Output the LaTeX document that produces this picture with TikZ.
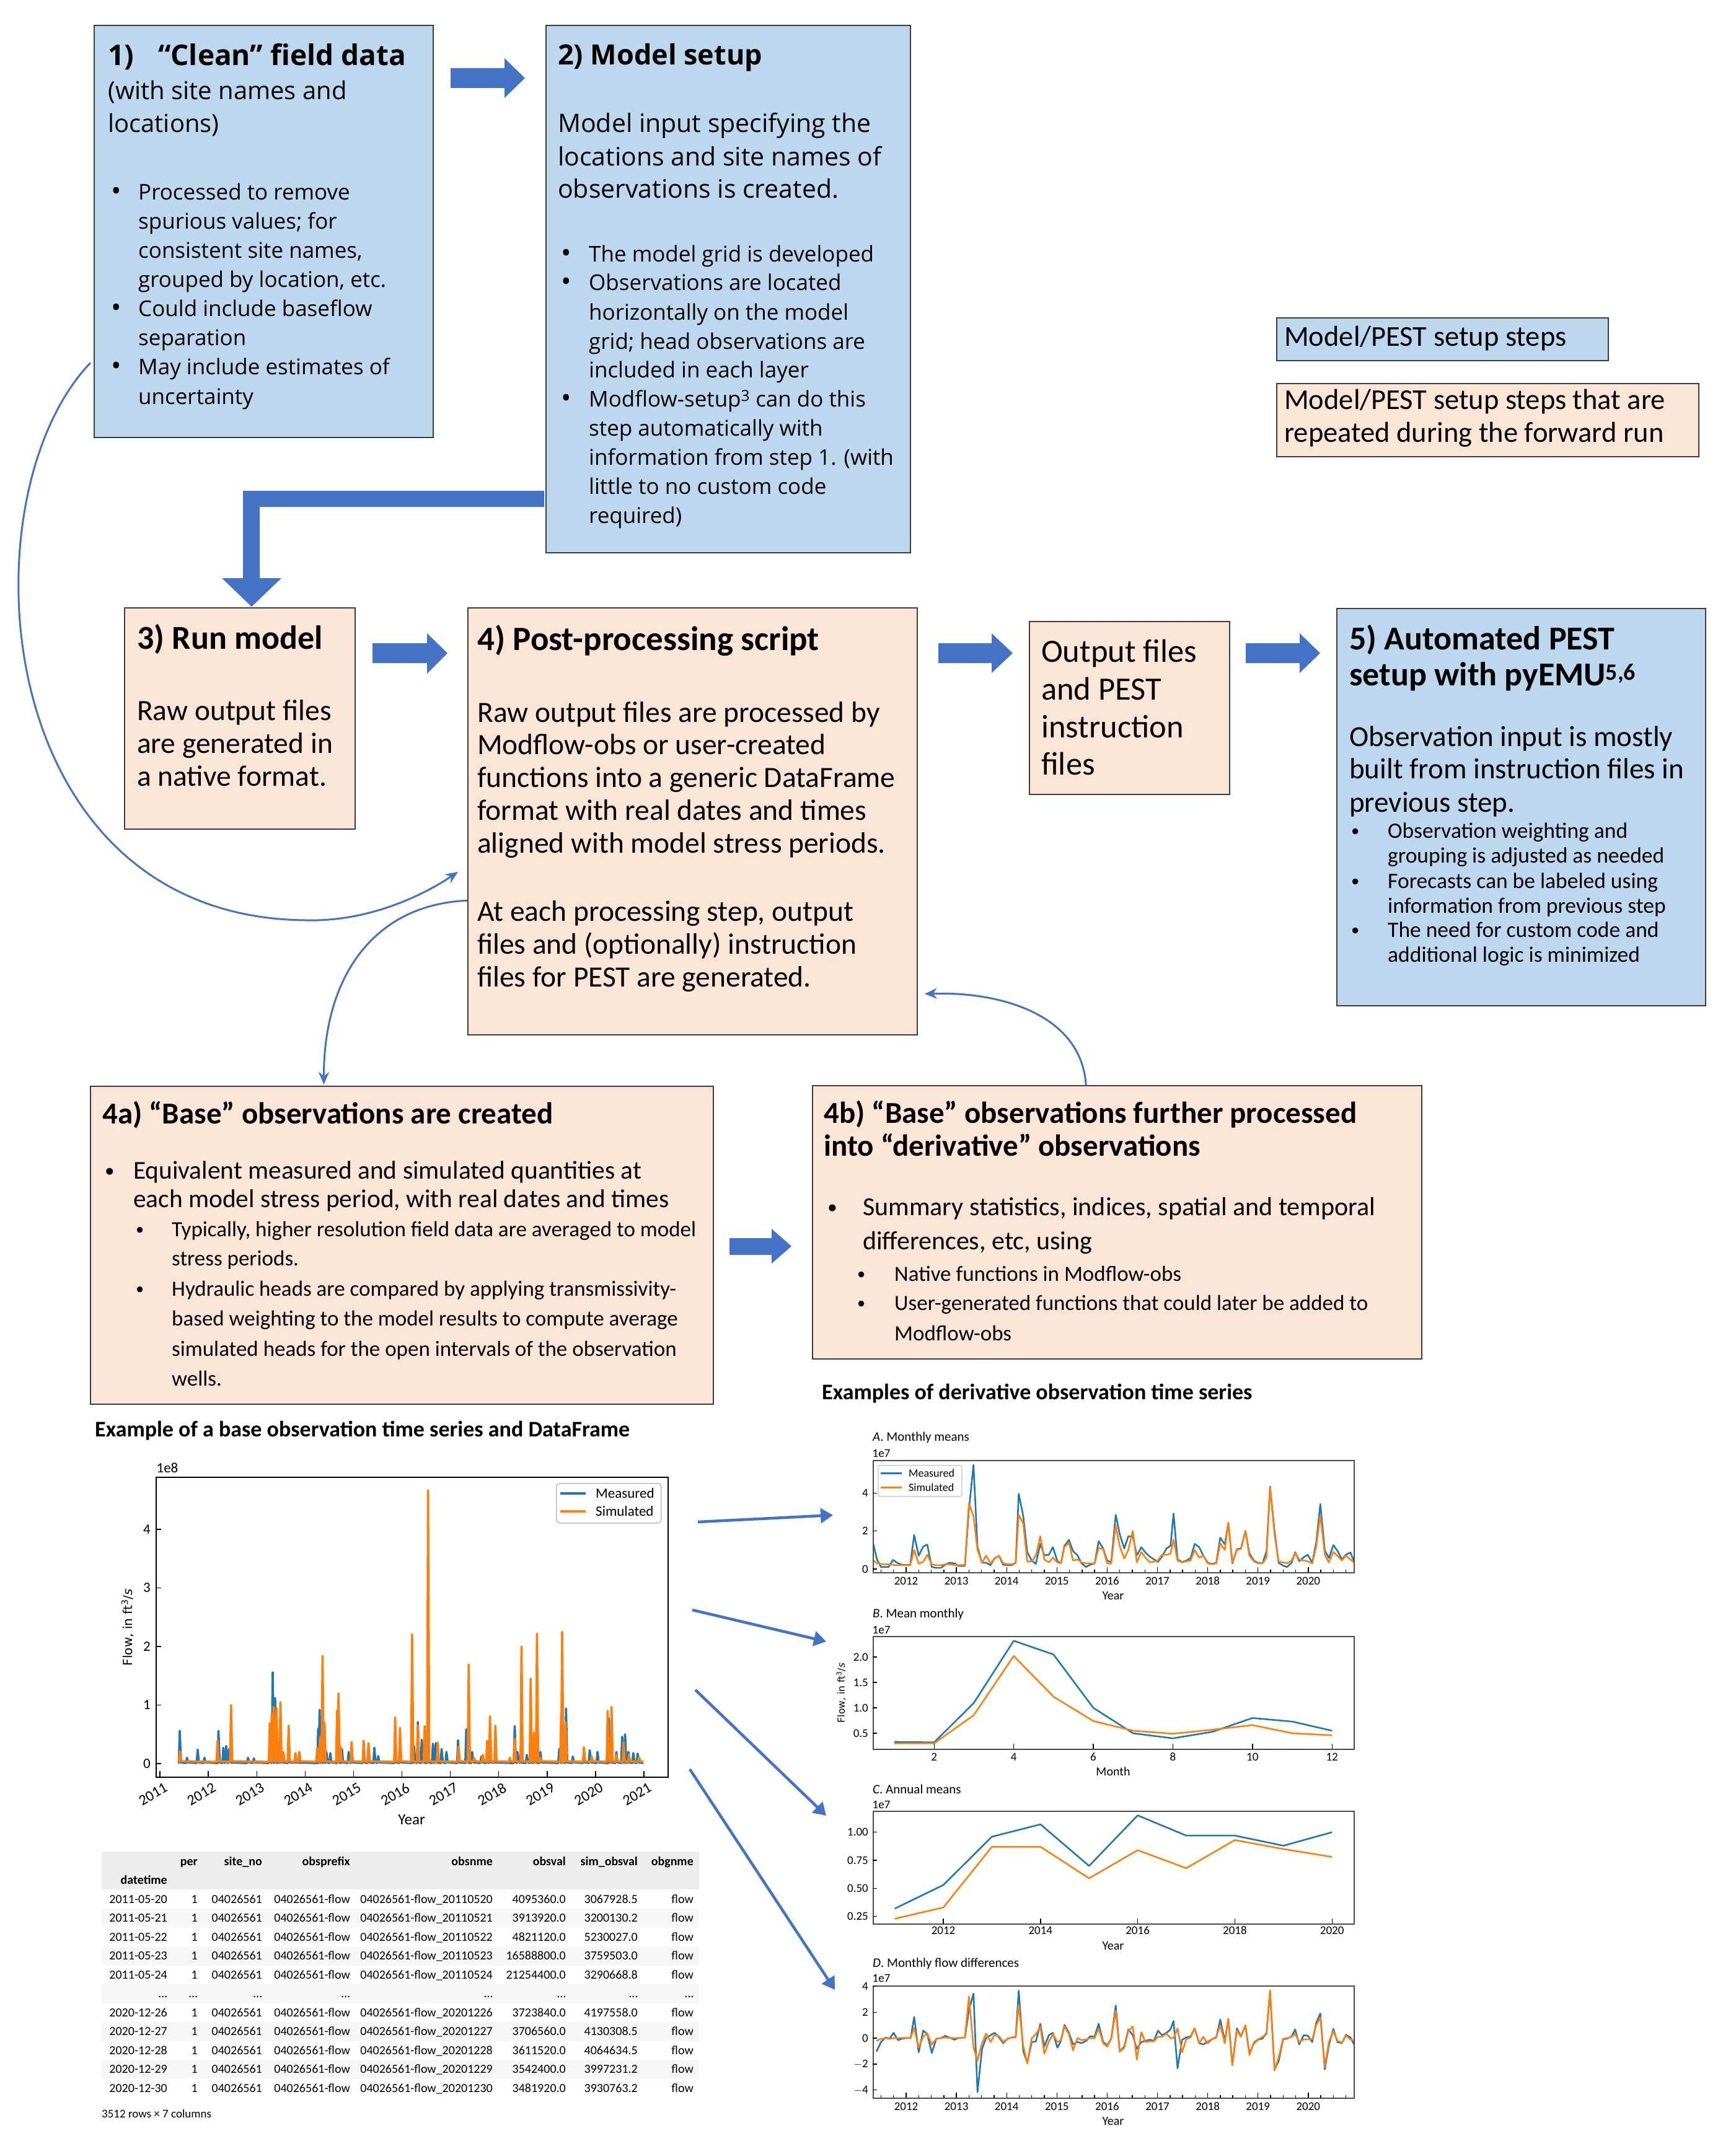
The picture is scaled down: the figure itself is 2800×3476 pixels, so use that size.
\documentclass[tikz,border=0pt]{standalone}
\usepackage{fontspec}
\setmainfont{Carlito}
\newfontfamily\carl{Carlito}
\newfontfamily\opsans{Open Sans}
\newfontfamily\dvs{DejaVu Sans}
\usetikzlibrary{arrows.meta,calc}
\definecolor{bfill}{HTML}{BDD7EE}
\definecolor{pfill}{HTML}{FBE5D6}
\definecolor{arr}{HTML}{4472C4}
\definecolor{mpb}{HTML}{1F77B4}
\definecolor{mpo}{HTML}{FF7F0E}
\definecolor{edge}{HTML}{3C3C3C}
\newcommand{\bu}[1]{\makebox[#1pt][l]{\raisebox{0.08em}{\scalebox{0.75}{\textbullet}}}}
\newcommand{\buo}[1]{\makebox[#1pt][l]{\raisebox{-0.03em}{\scalebox{1.25}{\textbullet}}}}
\newcommand{\ci}[1]{\hspace*{#1pt}}
\def\MB{0.41/0.56,0.56/0.10,0.78/0.24,0.92/0.10,1.21/0.56,1.31/0.27,1.37/0.30,1.43/0.25,1.82/0.10,1.94/0.09,2.27/0.30,2.33/1.56,2.38/1.12,2.45/0.30,2.50/0.25,2.66/0.20,3.27/0.60,3.30/0.92,3.39/0.50,3.44/0.20,3.52/0.18,3.68/0.30,3.76/0.25,3.90/0.20,3.96/0.15,4.21/0.25,4.31/0.30,4.43/0.27,4.51/0.13,4.86/0.22,4.96/0.28,5.21/1.20,5.25/0.30,5.33/0.71,5.41/0.41,5.53/0.18,5.64/0.34,5.70/0.35,5.82/0.25,5.92/0.20,6.16/0.40,6.33/0.59,6.45/0.20,6.64/0.12,6.76/0.20,6.82/0.25,7.33/0.64,7.39/0.20,7.58/0.15,7.66/0.25,7.73/0.30,7.86/0.20,8.25/0.25,8.31/1.50,8.39/0.94,8.53/0.12,8.76/0.10,8.88/0.23,9.04/0.20,9.27/0.78,9.31/0.30,9.43/0.20,9.55/0.46,9.61/0.50,9.68/0.20,9.78/0.18,9.87/0.17}
\def\MO{0.41/0.21,1.19/0.39,1.47/1.00,2.27/0.69,2.31/0.85,2.35/0.97,2.41/0.95,2.49/1.05,2.55/0.20,2.66/0.65,2.80/0.18,2.88/0.20,3.25/0.27,3.31/0.45,3.36/1.84,3.40/0.70,3.66/0.91,3.69/1.20,3.73/0.30,3.96/0.37,4.21/0.39,4.31/0.35,4.86/0.79,4.96/0.61,5.21/2.21,5.33/0.65,5.47/0.64,5.54/4.67,5.74/0.36,6.17/0.29,6.38/1.69,6.49/0.10,6.67/0.15,6.76/0.39,6.82/0.81,6.93/0.65,7.23/0.10,7.33/0.43,7.47/2.00,7.66/1.45,7.73/0.53,7.79/2.22,7.86/0.10,8.29/0.87,8.31/2.25,8.38/0.72,8.76/0.28,8.92/0.12,9.25/0.90,9.33/0.97,9.43/0.15,9.58/0.37,9.69/0.15,9.90/0.10}
\def\Adata{-0.67/1.50/0.50,-0.58/0.51/0.30,-0.50/0.11/0.25,-0.35/0.11/0.25,-0.26/0.48/0.22,-0.18/0.33/0.20,-0.09/0.23/0.20,0.08/0.21/0.20,0.16/1.79/1.00,0.25/0.70/0.28,0.34/1.18/0.38,0.42/1.29/0.75,0.51/0.11/0.25,0.60/0.06/0.20,0.69/0.06/0.20,0.78/0.23/0.25,0.86/0.33/0.25,0.96/0.30/0.22,1.04/0.16/0.20,1.17/0.16/0.22,1.25/3.13/3.46,1.34/5.47/2.78,1.42/1.15/1.00,1.51/0.33/0.33,1.59/0.33/0.70,1.68/0.20/0.30,1.76/0.58/0.55,1.85/0.68/0.70,1.93/0.23/0.30,2.02/0.20/0.25,2.10/0.20/0.25,2.18/0.33/0.30,2.24/3.96/2.85,2.33/2.78/2.40,2.41/0.89/0.40,2.50/0.44/0.40,2.58/0.27/0.70,2.67/1.32/1.72,2.75/0.72/0.50,2.84/0.75/0.35,2.92/1.15/0.60,3.01/0.41/0.35,3.08/0.30/0.30,3.15/1.22/1.15,3.24/1.53/1.40,3.32/0.94/0.45,3.41/0.72/0.50,3.49/0.30/0.35,3.58/0.11/0.30,3.66/0.23/0.30,3.75/0.30/0.30,3.83/1.46/1.10,3.92/1.08/1.05,4.00/0.44/0.30,4.08/0.37/0.28,4.17/2.85/2.30,4.25/1.83/1.20,4.34/1.08/0.55,4.42/1.72/1.00,4.51/1.72/2.00,4.59/0.72/0.35,4.68/1.15/0.90,4.76/0.87/0.60,4.85/0.65/0.35,4.93/0.51/0.40,5.01/0.37/0.45,5.09/0.65/0.75,5.18/1.08/0.75,5.26/1.22/0.80,5.32/2.92/1.55,5.40/0.51/0.45,5.49/0.37/0.35,5.57/0.44/0.40,5.66/0.58/0.45,5.74/1.32/1.00,5.83/1.15/0.60,5.91/0.72/0.70,6.00/0.33/0.30,6.08/0.27/0.25,6.17/0.33/0.30,6.25/1.65/1.35,6.34/1.29/1.00,6.41/2.43/2.45,6.49/0.30/0.35,6.58/1.04/1.00,6.66/1.08/1.05,6.75/2.00/2.00,6.83/0.82/0.70,6.92/0.44/0.40,7.00/0.33/0.30,7.09/0.30/0.30,7.17/0.94/0.60,7.24/4.34/4.30,7.33/2.00/1.80,7.41/0.33/0.40,7.50/0.18/0.35,7.58/0.11/0.30,7.67/0.33/0.45,7.74/0.89/0.85,7.82/0.41/0.50,7.91/0.62/0.45,7.99/0.75/0.40,8.08/0.33/0.30,8.16/1.43/1.20,8.24/3.42/2.85,8.33/0.98/0.75,8.41/0.58/0.35,8.50/1.26/0.90,8.58/0.96/0.70,8.67/0.51/0.45,8.75/0.75/0.70,8.84/0.87/0.50,8.91/0.40/0.35}
\def\Ddata{-0.59/-1.04/-0.20,-0.50/-0.30/-0.05,-0.41/0.05/0.00,-0.33/-0.04/-0.05,-0.25/0.41/0.00,-0.16/-0.16/0.00,-0.08/-0.04/0.02,0.01/0.00/0.02,0.09/0.00/0.02,0.16/1.64/0.80,0.25/-1.09/-0.72,0.34/0.58/0.10,0.42/0.32/0.38,0.51/-1.15/-0.50,0.60/-0.04/-0.05,0.69/0.00/0.00,0.78/0.18/0.05,0.86/0.05/0.02,0.96/-0.12/0.00,1.04/0.00/0.00,1.17/0.05/0.05,1.25/2.17/3.22,1.34/3.44/-0.70,1.42/-4.18/-1.74,1.51/-0.83/-0.40,1.59/0.00/0.35,1.68/0.23/-0.30,1.76/0.41/0.25,1.85/0.05/0.15,1.93/-0.39/-0.30,2.02/-0.04/-0.05,2.10/0.05/0.05,2.18/0.09/0.05,2.24/3.67/2.60,2.33/-1.00/-0.60,2.41/-1.89/-1.95,2.50/-0.30/0.00,2.58/-0.26/0.30,2.67/1.11/0.88,2.75/-0.65/-1.20,2.84/0.23/-0.25,2.92/0.41/0.30,3.01/-0.74/-0.30,3.08/-0.21/-0.15,3.15/1.02/0.90,3.24/0.41/0.30,3.32/-0.48/-0.95,3.41/-0.30/0.00,3.49/-0.39/-0.15,3.58/-0.21/-0.10,3.66/0.14/0.00,3.75/0.14/0.00,3.83/1.11/0.75,3.92/-0.30/-0.40,4.00/-0.56/-0.65,4.08/-0.04/-0.05,4.17/2.52/2.10,4.25/-1.04/-1.05,4.34/-0.65/-0.75,4.42/0.67/0.55,4.51/0.23/0.90,4.59/-0.83/-1.65,4.68/-0.30/0.45,4.76/-0.21/-0.30,4.85/-0.12/-0.25,4.93/-0.21/-0.25,5.01/0.58/0.10,5.09/0.23/0.10,5.18/0.41/0.35,5.26/0.67/0.00,5.32/1.32/0.00,5.40/-2.33/0.75,5.49/-0.12/-1.10,5.57/0.05/-0.10,5.66/0.14/0.05,5.74/0.76/0.75,5.83/-0.39/-0.40,5.91/-0.48/0.10,6.00/-0.30/-0.40,6.08/-0.09/-0.10,6.17/0.05/0.10,6.25/1.43/1.00,6.34/-0.21/-0.40,6.41/1.46/1.50,6.49/-2.06/-2.10,6.58/0.76/0.60,6.66/0.14/0.10,6.75/0.97/1.00,6.83/-1.18/-1.30,6.92/-0.39/-0.30,7.00/-0.12/-0.10,7.09/-0.04/0.10,7.17/0.41/0.30,7.24/3.58/3.70,7.33/-2.41/-2.50,7.41/-1.80/-1.50,7.50/-0.09/-0.05,7.58/-0.04/0.00,7.67/0.14/0.10,7.74/0.67/0.35,7.82/-0.48/-0.30,7.91/0.23/-0.10,7.99/0.19/-0.10,8.08/-0.30/-0.10,8.16/1.20/1.00,8.24/1.90/1.60,8.33/-2.41/-2.20,8.41/-0.56/-0.30,8.50/0.72/0.55,8.58/-0.30/-0.20,8.67/-0.39/-0.35,8.75/0.26/0.20,8.84/0.05/-0.10,8.91/-0.48/-0.20}
\def\Bdata{1/0.33/0.30,2/0.32/0.30,3/1.10/0.86,4/2.32/2.02,5/2.05/1.22,6/1.00/0.74,7/0.50/0.55,8/0.40/0.49,9/0.53/0.57,10/0.80/0.66,11/0.73/0.50,12/0.55/0.46}
\def\Cdata{0/0.32/0.23,1/0.53/0.33,2/0.96/0.87,3/1.07/0.87,4/0.70/0.59,5/1.15/0.84,6/0.97/0.68,7/0.97/0.93,8/0.88/0.85,9/1.00/0.78}
\begin{document}
\begin{tikzpicture}[x=1pt,y=-1pt,
  box/.style={draw=edge,line width=1.8pt,inner sep=0pt,anchor=north west},
  lnO/.style={anchor=base west,inner sep=0pt,yshift={-0.3*#1pt},font={\opsans\fontsize{#1}{#1}\selectfont}},
  lnOB/.style={anchor=base west,inner sep=0pt,yshift={-0.3*#1pt},font={\opsans\bfseries\fontsize{#1}{#1}\selectfont}},
  lnC/.style={anchor=base west,inner sep=0pt,yshift={-0.3*#1pt},font={\carl\fontsize{#1}{#1}\selectfont}},
  lnCB/.style={anchor=base west,inner sep=0pt,yshift={-0.3*#1pt},font={\carl\bfseries\fontsize{#1}{#1}\selectfont}},
  blk/.style={fill=arr},
  conn/.style={draw=arr,line width=3pt,-{Stealth[length=20pt,width=17pt]}},
  carr/.style={draw=arr,line width=4.5pt,-{Triangle[length=20pt,width=24pt]}},
  cl/.style={inner sep=0pt,font={\carl\fontsize{#1}{#1}\selectfont}},
  axf/.style={draw=#1,line width=1.6pt,inner sep=0pt,anchor=north west},
  tk/.style={line width=1.4pt},
  sb/.style={mpb,line width=2.6pt,line join=round},
  so/.style={mpo,line width=2.6pt,line join=round},
  tr/.style={anchor=base east,inner sep=0pt,yshift=-6pt,font={\carl\fontsize{20}{20}\selectfont}},
  trb/.style={anchor=base east,inner sep=0pt,yshift=-6pt,font={\carl\bfseries\fontsize{20}{20}\selectfont}},
]
\fill[white] (0,0) rectangle (2800,3476);
\useasboundingbox (0,0) rectangle (2800,3476);

% ---------- boxes ----------
\node[box,fill=bfill,minimum width=547pt,minimum height=665pt] (b1) at (151,40) {};
\node[box,fill=bfill,minimum width=588pt,minimum height=851pt] (b2) at (880,40) {};
\node[box,fill=bfill,minimum width=535pt,minimum height=69pt] (lg1) at (2059,512) {};
\node[box,fill=pfill,minimum width=681pt,minimum height=118pt] (lg2) at (2059,618) {};
\node[box,fill=pfill,minimum width=372pt,minimum height=357pt] (b3) at (200,980) {};
\node[box,fill=pfill,minimum width=725pt,minimum height=689pt] (b4) at (754,980) {};
\node[box,fill=pfill,minimum width=323pt,minimum height=279pt] (bo) at (1660,1002) {};
\node[box,fill=bfill,minimum width=595pt,minimum height=641pt] (b5) at (2156,981) {};
\node[box,fill=pfill,minimum width=1005pt,minimum height=513pt] (b4a) at (145,1752) {};
\node[box,fill=pfill,minimum width=983pt,minimum height=441pt] (b4b) at (1310,1751) {};

% ---------- box 1 ----------
\node[lnOB=46] (b1t) at (174,92) {\makebox[81pt][l]{1)}“Clean” field data};
\foreach \yy/\tx [count=\i] in {149/{(with site names and},202/{locations)}}
  \node[lnO=40] (b1s\i) at (174,\yy) {\tx};
\foreach \yy/\tx [count=\i] in {312/{\buo{44}Processed to remove},359/{\ci{44}spurious values; for},406/{\ci{44}consistent site names,},453/{\ci{44}grouped by location, etc.},500/{\buo{44}Could include baseflow},547/{\ci{44}separation},594/{\buo{44}May include estimates of},642/{\ci{44}uncertainty}}
  \node[lnO=35] (b1b\i) at (179,\yy) {\tx};

% ---------- box 2 ----------
\node[lnOB=45] (b2t) at (900,91) {2) Model setup};
\foreach \yy/\tx [count=\i] in {201/{Model input specifying the},255/{locations and site names of},307/{observations is created.}}
  \node[lnO=41] (b2s\i) at (900,\yy) {\tx};
\foreach \yy/\tx [count=\i] in {412/{\buo{45}The model grid is developed},458/{\buo{45}Observations are located},506/{\ci{45}horizontally on the model},553/{\ci{45}grid; head observations are},599/{\ci{45}included in each layer},646/{\buo{45}Modflow-setup\textsuperscript{3} can do this},693/{\ci{45}step automatically with},740/{\ci{45}information from step 1. (with},787/{\ci{45}little to no custom code},834/{\ci{45}required)}}
  \node[lnO=35] (b2b\i) at (905,\yy) {\tx};

% ---------- legend ----------
\node[lnC=46.5] (lgt1) at (2072,545) {Model/PEST setup steps};
\node[lnC=46.5] (lgt2) at (2072,647) {Model/PEST setup steps that are};
\node[lnC=46.5] (lgt3) at (2072,700) {repeated during the forward run};

% ---------- box 3 ----------
\node[lnCB=54] (b3t) at (221,1031) {3) Run model};
\foreach \yy/\tx [count=\i] in {1148/{Raw output files},1201/{are generated in},1254/{a native format.}}
  \node[lnC=47.5] (b3s\i) at (221,\yy) {\tx};

% ---------- box 4 ----------
\node[lnCB=55] (b4t) at (770,1033) {4) Post-processing script};
\foreach \yy/\tx [count=\i] in {1151/{Raw output files are processed by},1203/{Modflow-obs or user-created},1256/{functions into a generic DataFrame},1309/{format with real dates and times},1362/{aligned with model stress periods.},1472/{At each processing step, output},1525/{files and (optionally) instruction},1578/{files for PEST are generated.}}
  \node[lnC=47.5] (b4s\i) at (770,\yy) {\tx};

% ---------- output box ----------
\foreach \yy/\tx [count=\i] in {1053/{Output files},1114/{and PEST},1175/{instruction},1235/{files}}
  \node[lnC=52.5] (bos\i) at (1680,\yy) {\tx};

% ---------- box 5 ----------
\node[lnCB=54] (b5t1) at (2177,1032) {5) Automated PEST};
\node[lnCB=54] (b5t2) at (2177,1090) {setup with pyEMU\textsuperscript{5,6}};
\foreach \yy/\tx [count=\i] in {1190/{Observation input is mostly},1242/{built from instruction files in},1296/{previous step.}}
  \node[lnC=47] (b5s\i) at (2177,\yy) {\tx};
\foreach \yy/\tx [count=\i] in {1342/{\bu{59}Observation weighting and},1382/{\ci{59}grouping is adjusted as needed},1423/{\bu{59}Forecasts can be labeled using},1463/{\ci{59}information from previous step},1502/{\bu{59}The need for custom code and},1542/{\ci{59}additional logic is minimized}}
  \node[lnC=35.5] (b5b\i) at (2180,\yy) {\tx};

% ---------- box 4a ----------
\node[lnCB=49] (b4at) at (165,1799) {4a) “Base” observations are created};
\node[lnC=41.4] (b4as1) at (169,1890) {\bu{46}Equivalent measured and simulated quantities at};
\node[lnC=41.4] (b4as2) at (169,1936) {\ci{46}each model stress period, with real dates and times};
\foreach \yy/\tx [count=\i] in {1985/{\bu{58}Typically, higher resolution field data are averaged to model},2032/{\ci{58}stress periods.},2081/{\bu{58}Hydraulic heads are compared by applying transmissivity-},2129/{\ci{58}based weighting to the model results to compute average},2178/{\ci{58}simulated heads for the open intervals of the observation},2226/{\ci{58}wells.}}
  \node[lnC=35] (b4ab\i) at (219,\yy) {\tx};

% ---------- box 4b ----------
\node[lnCB=49] (b4bt1) at (1329,1798) {4b) “Base” observations further processed};
\node[lnCB=49] (b4bt2) at (1329,1851) {into “derivative” observations};
\node[lnC=42] (b4bs1) at (1335,1949) {\bu{57}Summary statistics, indices, spatial and temporal};
\node[lnC=42] (b4bs2) at (1335,2004) {\ci{57}differences, etc, using};
\foreach \yy/\tx [count=\i] in {2057/{\bu{60}Native functions in Modflow-obs},2104/{\bu{60}User-generated functions that could later be added to},2153/{\ci{60}Modflow-obs}}
  \node[lnC=35] (b4bb\i) at (1383,\yy) {\tx};

% ---------- block arrows ----------
\fill[blk] (727,110) -- (814,110) -- (814,94) -- (847,126) -- (814,158) -- (814,142) -- (727,142) -- cycle;
\fill[blk] (601,1038) -- (689,1038) -- (689,1022) -- (722,1054) -- (689,1087) -- (689,1070) -- (601,1070) -- cycle;
\fill[blk] (1514,1038) -- (1600,1038) -- (1600,1022) -- (1634,1054) -- (1600,1086) -- (1600,1070) -- (1514,1070) -- cycle;
\fill[blk] (2010,1038) -- (2097,1038) -- (2097,1022) -- (2130,1054) -- (2097,1086) -- (2097,1070) -- (2010,1070) -- cycle;
\fill[blk] (1177,1998) -- (1245,1998) -- (1245,1983) -- (1277,2011) -- (1245,2039) -- (1245,2025) -- (1177,2025) -- cycle;
\fill[blk] (878,792) -- (392,792) -- (392,933) -- (358,933) -- (406,979) -- (454,933) -- (419,933) -- (419,818) -- (878,818) -- cycle;

% ---------- curved connectors ----------
\draw[conn] ($(b1.north west)!0.818!(b1.south west)+(-5,0)$) .. controls (-60,800) and (-20,1480) .. (493,1485) .. controls (600,1488) and (690,1440) .. ($(b4.north west)!0.618!(b4.south west)+(-15,0)$);
\draw[conn] ($(b4.north west)!0.685!(b4.south west)$) .. controls (600,1460) and (522,1580) .. ($(b4a.north west)!0.375!(b4a.north east)+(0,-2)$);
\draw[conn] ($(b4b.north west)!0.449!(b4b.north east)$) .. controls (1745,1640) and (1620,1600) .. ($(b4.north east)!0.903!(b4.south east)+(11,0)$);

% ---------- chart titles ----------
\node[lnCB=36] (ct1) at (153,2308) {Example of a base observation time series and DataFrame};
\node[lnCB=36] (ct2) at (1326,2248) {Examples of derivative observation time series};

% ---------- main chart ----------
\begin{scope}
\clip (251,2383) rectangle (1077,2867);
\begin{scope}[shift={(258pt,-2846pt)},x=78.1pt,y=94.5pt]
\draw[mpb,line width=3.6pt,line join=round] (0.38,0.01) \foreach \t/\v in \MB { -- (\t-0.02,0.01) -- (\t,\v) -- (\t+0.025,0.02) } -- (9.99,0.01);
\draw[mpo,line width=3.6pt,line join=round] (0.38,0.03) \foreach \t/\v in \MO { -- (\t-0.02,0.03) -- (\t,\v) -- (\t+0.025,0.04) } -- (9.99,0.03);
\end{scope}
\end{scope}
\node[axf=black,minimum width=826pt,minimum height=484pt] (ax0) at (251,2383) {};
\foreach \v in {0,...,4} {
  \draw[tk] (251,{2846-94.5*\v}) -- ++(9,0);
  \node[cl=23,anchor=east] (myl\v) at (243,{2846-94.5*\v}) {\v};
}
\foreach \yr [count=\k from 0] in {2011,...,2021} {
  \draw[tk] ({258+78.1*\k},2867) -- ++(0,-9);
  \node[cl=24,anchor=north east,rotate=30] (mxl\k) at ({264+78.1*\k},2876) {\yr};
}
\node[cl=23] (m1e8) at (270,2369) {1e8};
\node[cl=25] (myear) at (664,2937) {Year};
\node[rotate=90,inner sep=0pt,font={\dvs\fontsize{20}{20}\selectfont}] (mylab) at (206,2626) {Flow, in ft\textsuperscript{3}/\textit{s}};
\node[axf=black!25,fill=white,rounded corners=5pt,minimum width=169pt,minimum height=64pt] (mleg) at (897,2393) {};
\draw[mpb,line width=4pt] (904,2410) -- (945,2410);
\draw[mpo,line width=4pt] (904,2439) -- (945,2439);
\node[cl=23,anchor=west] (mlm) at (961,2410) {Measured};
\node[cl=23,anchor=west] (mls) at (961,2439) {Simulated};

% ---------- table ----------
\fill[gray!14] (164,2988) rectangle (1128,3049);
\foreach \i in {2,4,6,8,10} \fill[gray!6] (164,{3065+30.5*(\i-1)-15.25}) rectangle (1128,{3065+30.5*(\i-1)+15.25});
\foreach \xx/\tx [count=\i] in {319/per,423/site\_no,565/obsprefix,795/obsnme,913/obsval,1029/sim\_obsval,1119/obgnme}
  \node[trb] (th\i) at (\xx,3004) {\tx};
\node[trb] (thd) at (270,3034) {datetime};
\foreach \xa/\xb/\xc/\xd/\xe/\xf/\xg/\xh [count=\i] in {
2011-05-20/1/04026561/04026561-flow/04026561-flow\_20110520/4095360.0/3067928.5/flow,
2011-05-21/1/04026561/04026561-flow/04026561-flow\_20110521/3913920.0/3200130.2/flow,
2011-05-22/1/04026561/04026561-flow/04026561-flow\_20110522/4821120.0/5230027.0/flow,
2011-05-23/1/04026561/04026561-flow/04026561-flow\_20110523/16588800.0/3759503.0/flow,
2011-05-24/1/04026561/04026561-flow/04026561-flow\_20110524/21254400.0/3290668.8/flow,
…/…/…/…/…/…/…/…,
2020-12-26/1/04026561/04026561-flow/04026561-flow\_20201226/3723840.0/4197558.0/flow,
2020-12-27/1/04026561/04026561-flow/04026561-flow\_20201227/3706560.0/4130308.5/flow,
2020-12-28/1/04026561/04026561-flow/04026561-flow\_20201228/3611520.0/4064634.5/flow,
2020-12-29/1/04026561/04026561-flow/04026561-flow\_20201229/3542400.0/3997231.2/flow,
2020-12-30/1/04026561/04026561-flow/04026561-flow\_20201230/3481920.0/3930763.2/flow}
{
  \pgfmathsetmacro\ry{3065+30.5*(\i-1)}
  \node[tr] (ta\i) at (270,\ry) {\xa};
  \node[tr] (tb\i) at (319,\ry) {\xb};
  \node[tr] (tc\i) at (423,\ry) {\xc};
  \node[tr] (td\i) at (565,\ry) {\xd};
  \node[tr] (te\i) at (795,\ry) {\xe};
  \node[tr] (tf\i) at (913,\ry) {\xf};
  \node[tr] (tg\i) at (1029,\ry) {\xg};
  \node[tr] (th\i x) at (1119,\ry) {\xh};
}
\node[cl=19,anchor=west] (tfoot) at (164,3411) {3512 rows × 7 columns};

% ---------- connectors to sub charts ----------
\coordinate (p1s) at (1126,2456); \coordinate (p1e) at (1344,2445);
\coordinate (p2s) at (1117,2598); \coordinate (p2e) at (1333,2649);
\coordinate (p3s) at (1122,2727); \coordinate (p3e) at (1333,2930);
\coordinate (p4s) at (1113,2855); \coordinate (p4e) at (1347,3211);
\draw[carr] (p1s) -- (p1e);
\draw[carr] (p2s) -- (p2e);
\draw[carr] (p3s) -- (p3e);
\draw[carr] (p4s) -- (p4e);

% ---------- chart A ----------
\node[cl=21,anchor=west] (tA) at (1408,2320) {\textit{A}. Monthly means};
\node[cl=19] (eA) at (1422,2345) {1e7};
\begin{scope}
\clip (1408,2356) rectangle (2184,2537);
\begin{scope}[shift={(1462pt,-2532pt)},x=81.1pt,y=30.7pt]
\draw[sb] (-0.67,1.50) \foreach \t/\b/\o in \Adata { -- (\t,\b) };
\draw[so] (-0.67,0.50) \foreach \t/\b/\o in \Adata { -- (\t,\o) };
\end{scope}
\end{scope}
\node[axf=black!70,minimum width=776pt,minimum height=181pt] (axA) at (1408,2356) {};
\foreach \q in {-0.5,-0.25,...,8.8} \draw[tk] ({1462+81.1*\q},2537) -- ++(0,-4);
\foreach \yr [count=\k from 0] in {2012,...,2020} {
  \draw[tk] ({1462+81.1*\k},2537) -- ++(0,-8);
  \node[cl=19] (axl\k) at ({1462+81.1*\k},2551) {\yr};
}
\foreach \v in {0,2,4} {
  \draw[tk] (1408,{2532-30.7*\v}) -- ++(7,0);
  \node[cl=19,anchor=east] (ayl\v) at (1401,{2532-30.7*\v}) {\v};
}
\node[cl=20] (yA) at (1796,2575) {Year};
\node[axf=black!20,fill=white,rounded corners=3pt,minimum width=135pt,minimum height=50pt] (lA) at (1416,2364) {};
\draw[mpb,line width=3pt] (1421,2377) -- (1455,2377);
\draw[mpo,line width=3pt] (1421,2400) -- (1455,2400);
\node[cl=18,anchor=west] (lAm) at (1466,2377) {Measured};
\node[cl=18,anchor=west] (lAs) at (1466,2400) {Simulated};

% ---------- chart B ----------
\node[cl=21,anchor=west] (tB) at (1408,2605) {\textit{B}. Mean monthly};
\node[cl=19] (eB) at (1422,2630) {1e7};
\begin{scope}
\clip (1408,2640) rectangle (2184,2822);
\begin{scope}[shift={(1443pt,-2838pt)},x=64.2pt,y=82pt]
\draw[sb] (0,0.33) \foreach \m/\b/\o in \Bdata { -- (\m-1,\b) };
\draw[so] (0,0.30) \foreach \m/\b/\o in \Bdata { -- (\m-1,\o) };
\end{scope}
\end{scope}
\node[axf=black!70,minimum width=776pt,minimum height=182pt] (axB) at (1408,2640) {};
\foreach \m in {2,4,...,12} {
  \draw[tk] ({1443+64.2*(\m-1)},2822) -- ++(0,-8);
  \node[cl=19] (bxl\m) at ({1443+64.2*(\m-1)},2835) {\m};
}
\foreach \v/\lab [count=\i] in {0.5/0.5,1.0/1.0,1.5/1.5,2.0/2.0} {
  \draw[tk] (1408,{2838-82*\v}) -- ++(7,0);
  \node[cl=19,anchor=east] (byl\i) at (1401,{2838-82*\v}) {\lab};
}
\node[cl=20] (xB) at (1796,2859) {Month};
\node[rotate=90,inner sep=0pt,font={\dvs\fontsize{15.5}{15.5}\selectfont}] (ylB) at (1357,2732) {Flow, in ft\textsuperscript{3}/\textit{s}};

% ---------- chart C ----------
\node[cl=21,anchor=west] (tC) at (1408,2887) {\textit{C}. Annual means};
\node[cl=19] (eC) at (1422,2912) {1e7};
\begin{scope}
\clip (1408,2922) rectangle (2184,3104);
\begin{scope}[shift={(1443.6pt,-3138pt)},x=78.4pt,y=181.3pt]
\draw[sb] (0,0.32) \foreach \k/\b/\o in \Cdata { -- (\k,\b) };
\draw[so] (0,0.23) \foreach \k/\b/\o in \Cdata { -- (\k,\o) };
\end{scope}
\end{scope}
\node[axf=black!70,minimum width=776pt,minimum height=182pt] (axC) at (1408,2922) {};
\foreach \yr [count=\k from 1] in {2012,2014,...,2020} {
  \draw[tk] ({1443.6+78.4*(2*\k-1)},3104) -- ++(0,-8);
  \node[cl=19] (cxl\k) at ({1443.6+78.4*(2*\k-1)},3115) {\yr};
}
\foreach \v/\lab [count=\i] in {0.25/0.25,0.5/0.50,0.75/0.75,1.0/1.00} {
  \draw[tk] (1408,{3138-181.3*\v}) -- ++(7,0);
  \node[cl=19,anchor=east] (cyl\i) at (1401,{3138-181.3*\v}) {\lab};
}
\node[cl=20] (xC) at (1796,3140) {Year};

% ---------- chart D ----------
\node[cl=21,anchor=west] (tD) at (1408,3169) {\textit{D}. Monthly flow differences};
\node[cl=19] (eD) at (1422,3192) {1e7};
\begin{scope}
\clip (1408,3204) rectangle (2184,3385);
\begin{scope}[shift={(1462pt,-3289pt)},x=81.1pt,y=20.9pt]
\draw[sb] (-0.59,-1.04) \foreach \t/\b/\o in \Ddata { -- (\t,\b) };
\draw[so] (-0.59,-0.20) \foreach \t/\b/\o in \Ddata { -- (\t,\o) };
\end{scope}
\end{scope}
\node[axf=black!70,minimum width=776pt,minimum height=181pt] (axD) at (1408,3204) {};
\foreach \q in {-0.5,-0.25,...,8.8} \draw[tk] ({1462+81.1*\q},3385) -- ++(0,-4);
\foreach \yr [count=\k from 0] in {2012,...,2020} {
  \draw[tk] ({1462+81.1*\k},3385) -- ++(0,-8);
  \node[cl=19] (dxl\k) at ({1462+81.1*\k},3399) {\yr};
}
\foreach \v/\lab [count=\i] in {4/4,2/2,0/0,-2/{$-$2},-4/{$-$4}} {
  \draw[tk] (1408,{3289-20.9*\v}) -- ++(7,0);
  \node[cl=19,anchor=east] (dyl\i) at (1401,{3289-20.9*\v}) {\lab};
}
\node[cl=20] (xD) at (1796,3423) {Year};
\end{tikzpicture}
\end{document}
